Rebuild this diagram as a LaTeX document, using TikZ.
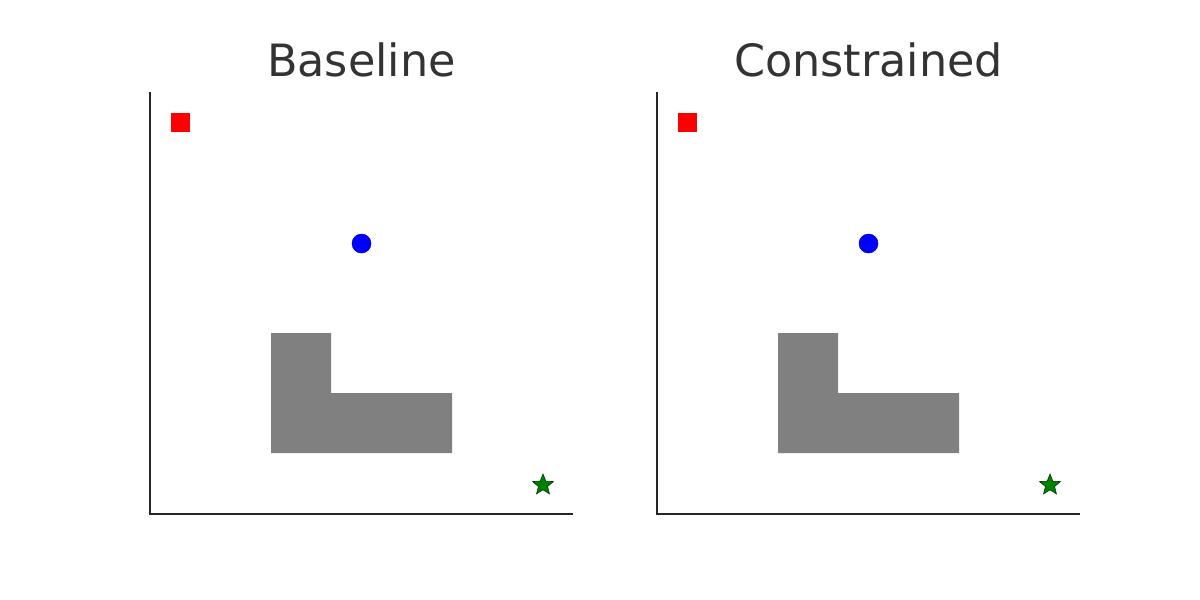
\documentclass[tikz,border=0pt]{standalone}
\usepackage{fontspec}
\setmainfont{DejaVu Sans}
\usetikzlibrary{shapes.geometric}
\definecolor{ink}{RGB}{38,38,38}
\definecolor{hd}{RGB}{51,51,51}
\definecolor{cObs}{RGB}{128,128,128}
\definecolor{cStart}{RGB}{255,0,0}
\definecolor{cAgent}{RGB}{0,0,255}
\definecolor{cGoal}{RGB}{0,128,0}
\tikzset{
  axis/.style={draw=ink,line width=2.4pt},
  ttl/.style={anchor=base,text=hd,inner sep=0pt,font=\fontsize{44.5}{54}\selectfont},
  start/.style={fill=cStart,minimum size=19pt,inner sep=0pt},
  agent/.style={circle,fill=cAgent,draw=cAgent!70!black,line width=0.5pt,
    minimum size=19pt,inner sep=0pt},
  goal/.style={star,star points=5,star point ratio=2.3,fill=cGoal,
    draw=cGoal!40!black,line width=0.6pt,minimum size=22pt,inner sep=0pt},
}

\begin{document}
\begin{tikzpicture}[x=1pt,y=-1pt]
  \useasboundingbox (0,0) rectangle (1200,600);
  % two panels, same scene
  \foreach \i/\name/\xo in {1/Baseline/0,2/Constrained/507}{
    \begin{scope}[xshift=\xo]
      \node[ttl] (title-\i) at (361.5,76) {\name};
      % axes
      \coordinate (top-\i)    at (150,92);
      \coordinate (origin-\i) at (150,514);
      \coordinate (right-\i)  at (573,514);
      \draw[axis] (top-\i) -- (origin-\i) -- (right-\i);
      % obstacle
      \fill[cObs] (271,333) -- (331,333) -- (331,393) -- (452,393)
        -- (452,453) -- (271,453) -- cycle;
      % markers
      \node[start] (start-\i) at (180.5,122.5) {};
      \node[agent] (agent-\i) at (361.5,243.5) {};
      \node[goal]  (goal-\i)  at (543,485) {};
    \end{scope}
  }
\end{tikzpicture}
\end{document}
